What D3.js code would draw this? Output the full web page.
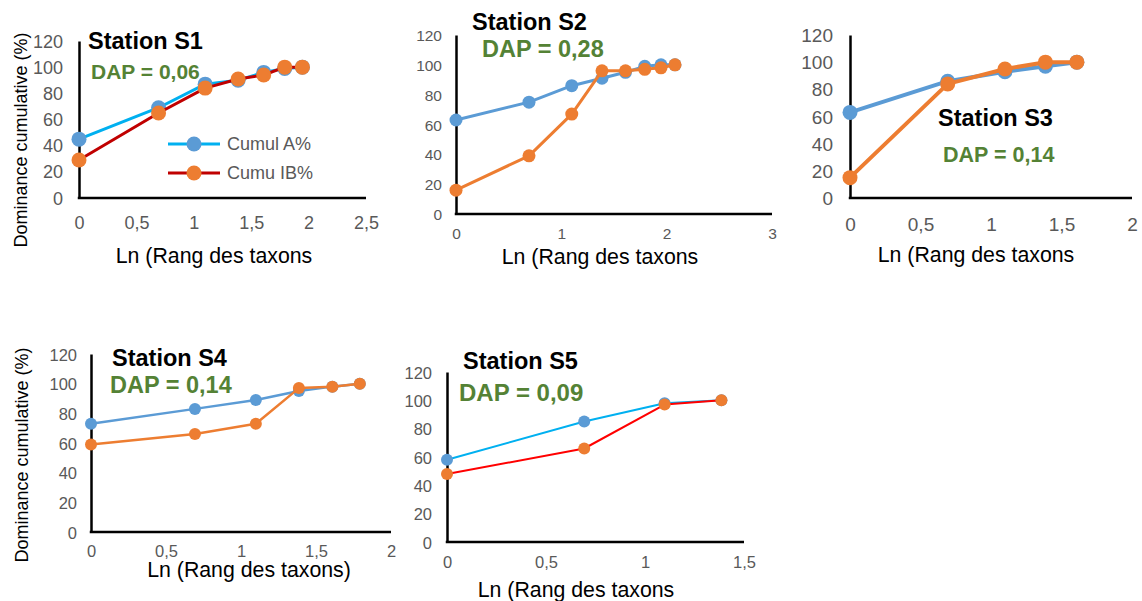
<!DOCTYPE html>
<html><head><meta charset="utf-8">
<script src="https://cdn.jsdelivr.net/npm/d3@7"></script>
<style>body{margin:0;background:#fff}svg{display:block}text{font-family:"Liberation Sans",Arial,sans-serif}</style>
</head><body><svg id="c" width="1142" height="601"></svg>
<script>
// ln(rank) values
const lnRank = [0, 0.693, 1.099, 1.386, 1.609, 1.792, 1.946, 2.079];
const yTicks = [0, 20, 40, 60, 80, 100, 120];
// Station data (cumulative dominance %)
const s1A = [45, 69, 87, 90, 96, 99, 100];
const s1B = [29, 65, 84, 91, 94, 100, 100];
const s2A = [63, 75, 86, 91, 95, 99, 100, 100];
const s2B = [16, 39, 67, 96, 96, 97, 98, 100];
const s3A = [63, 86, 93, 97, 100];
const s3B = [15, 84, 95, 100, 100];
const s4A = [73, 83, 89, 95, 98, 100];
const s4B = [59, 66, 73, 97, 98, 100];
const s5A = [58, 85, 98, 100];
const s5B = [48, 66, 97, 100];
const xTicks1 = [0, 0.5, 1, 1.5, 2, 2.5];
const xTicks2 = [0, 1, 2, 3];
const xTicks3 = [0, 0.5, 1, 1.5, 2];
const xTicks4 = [0, 0.5, 1, 1.5, 2];
const xTicks5 = [0, 0.5, 1, 1.5];
const titles = ["Station S1", "Station S2", "Station S3", "Station S4", "Station S5"];
const daps = ["DAP = 0,06", "DAP = 0,28", "DAP = 0,14", "DAP = 0,14", "DAP = 0,09"];
const xTitles = ["Ln (Rang des taxons", "Ln (Rang des taxons", "Ln (Rang des taxons", "Ln (Rang des taxons)", "Ln (Rang des taxons"];
const yTitle = "Dominance cumulative (%)";
const legendLabels = ["Cumul A%", "Cumu IB%"];

const BLUE_M = "#5b9bd5", ORANGE_M = "#ed7d31", GREEN = "#548235", GRAY = "#595959";

const panels = [
  {A: s1A, B: s1B, xt: xTicks1, xmax: 2.5, x0: 79, x1: 366, yTop: 41, yBot: 198, tf: 18, ygap: 16, xly: 223,
   lineA: "#00b0f0", lineB: "#c00000", lw: 3, r: 7.5,
   title: [88, 49, 23.5], dap: [91, 79, 21], xtitle: [214, 263, 21.3], ytitle: [21, 140, 18], legend: true},
  {A: s2A, B: s2B, xt: xTicks2, xmax: 3, x0: 456, x1: 772, yTop: 35, yBot: 214, tf: 15.5, ygap: 14, xly: 233,
   lineA: BLUE_M, lineB: ORANGE_M, lw: 3, r: 6.5,
   title: [472, 30, 23.5], dap: [482, 57, 23.5], xtitle: [600, 264, 21.3]},
  {A: s3A, B: s3B, xt: xTicks3, xmax: 2, x0: 850, x1: 1132, yTop: 35, yBot: 198, tf: 19, ygap: 17, xly: 224,
   lineA: BLUE_M, lineB: ORANGE_M, lw: 4, r: 7.5,
   title: [938, 126, 23.5], dap: [943, 162, 21.5], xtitle: [976, 262, 21.3]},
  {A: s4A, B: s4B, xt: xTicks4, xmax: 2, x0: 91, x1: 391, yTop: 354, yBot: 532, tf: 16.5, ygap: 14, xly: 551,
   lineA: BLUE_M, lineB: ORANGE_M, lw: 2.5, r: 6,
   title: [112, 366, 23.5], dap: [110, 393, 23.5], xtitle: [249, 577, 21.3], ytitle: [22, 455, 18]},
  {A: s5A, B: s5B, xt: xTicks5, xmax: 1.5, x0: 447, x1: 744, yTop: 372, yBot: 542, tf: 16.5, ygap: 15, xly: 562,
   lineA: "#00b0f0", lineB: "#ff0000", lw: 2, r: 6,
   title: [463, 369, 23.5], dap: [459, 401, 24], xtitle: [576, 597, 21.3]}
];

const svg = d3.select("#c");
const fmt = v => String(v).replace(".", ",");

panels.forEach((p, i) => {
  const g = svg.append("g");
  const x = d3.scaleLinear().domain([0, p.xmax]).range([p.x0, p.x1]);
  const y = d3.scaleLinear().domain([0, 120]).range([p.yBot, p.yTop]);

  const yAx = g.append("g").attr("transform", `translate(${p.x0},0)`)
    .call(d3.axisLeft(y).tickValues(yTicks).tickSize(0).tickSizeOuter(0).tickPadding(p.ygap));
  yAx.selectAll("text").attr("fill", GRAY).attr("font-size", p.tf).attr("font-family", '"Liberation Sans",Arial,sans-serif')
    .attr("dy", null).attr("dominant-baseline", "central");
  yAx.select(".domain").attr("stroke", "#000").attr("stroke-width", 2.5);

  const xAx = g.append("g").attr("transform", `translate(0,${p.yBot})`)
    .call(d3.axisBottom(x).tickValues(p.xt).tickFormat(fmt).tickSize(0).tickSizeOuter(0));
  xAx.selectAll("text").attr("fill", GRAY).attr("font-size", p.tf).attr("font-family", '"Liberation Sans",Arial,sans-serif')
    .attr("dy", null).attr("y", p.xly - p.yBot).attr("dominant-baseline", "central");
  xAx.select(".domain").attr("stroke", "#000").attr("stroke-width", 2.5);
  xAx.select(".domain").attr("d", `M${p.x0 - 1.25},0H${p.x1}`);

  const line = d3.line().x((d, k) => x(lnRank[k])).y(d => y(d));
  [[p.A, p.lineA, BLUE_M], [p.B, p.lineB, ORANGE_M]].forEach(([data, lc, mc]) => {
    g.append("path").datum(data).attr("d", line).attr("fill", "none")
      .attr("stroke", lc).attr("stroke-width", p.lw).attr("stroke-linejoin", "round");
    g.selectAll(null).data(data).enter().append("circle")
      .attr("cx", (d, k) => x(lnRank[k])).attr("cy", d => y(d)).attr("r", p.r).attr("fill", mc);
  });

  g.append("text").attr("x", p.title[0]).attr("y", p.title[1]).attr("font-size", p.title[2])
    .attr("font-weight", "bold").attr("fill", "#000").text(titles[i]);
  g.append("text").attr("x", p.dap[0]).attr("y", p.dap[1]).attr("font-size", p.dap[2])
    .attr("font-weight", "bold").attr("fill", GREEN).text(daps[i]);
  g.append("text").attr("x", p.xtitle[0]).attr("y", p.xtitle[1]).attr("font-size", p.xtitle[2])
    .attr("text-anchor", "middle").attr("fill", "#000").text(xTitles[i]);
  if (p.ytitle) {
    g.append("text").attr("transform", `translate(${p.ytitle[0]},${p.ytitle[1]}) rotate(-90)`)
      .attr("font-size", p.ytitle[2]).attr("text-anchor", "middle").attr("dominant-baseline", "central")
      .attr("fill", "#000").text(yTitle);
  }
  if (p.legend) {
    const items = [[legendLabels[0], p.lineA, BLUE_M, 144], [legendLabels[1], p.lineB, ORANGE_M, 173]];
    items.forEach(([lab, lc, mc, ly]) => {
      g.append("line").attr("x1", 168).attr("x2", 220).attr("y1", ly).attr("y2", ly)
        .attr("stroke", lc).attr("stroke-width", p.lw);
      g.append("circle").attr("cx", 194).attr("cy", ly).attr("r", p.r).attr("fill", mc);
      g.append("text").attr("x", 227).attr("y", ly).attr("dominant-baseline", "central")
        .attr("font-size", 18).attr("fill", GRAY).text(lab);
    });
  }
});
</script></body></html>
